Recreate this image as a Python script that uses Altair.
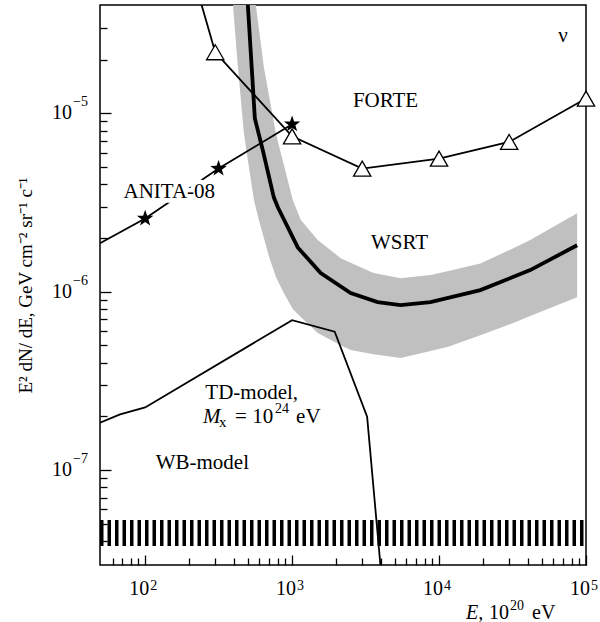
import altair as alt
import pandas as pd

# ---------------- data (x: E in 1e20 eV, y: E^2 dN/dE) ----------------
X_DOMAIN = [49.3, 1.0e5]
Y_DOMAIN = [2.93e-8, 4.05e-5]

forte_E = [198, 300, 1000, 3000, 1.0e4, 3.0e4, 1.0e5]
forte_F = [7.2e-5, 2.20e-5, 7.43e-6, 4.90e-6, 5.57e-6, 6.91e-6, 1.21e-5]
forte_mark = [0, 1, 1, 1, 1, 1, 1]

anita_E = [49.3, 100, 316, 1000]
anita_F = [1.87e-6, 2.57e-6, 4.90e-6, 8.68e-6]
anita_mark = [0, 1, 1, 1]

wsrt_E = [477, 500, 558, 632, 751, 800, 1093, 1566, 2503, 3818, 5470, 8743, 19104, 41737, 87000]
wsrt_F = [5.56e-5, 4.03e-5, 9.37e-6, 6.21e-6, 3.38e-6, 2.97e-6, 1.77e-6, 1.27e-6, 9.81e-7,
          8.73e-7, 8.40e-7, 8.73e-7, 1.02e-6, 1.32e-6, 1.82e-6]

band_E = [396, 428, 470, 508, 550, 567, 594, 643, 695, 775, 878, 1011, 1146, 1495, 2141, 2503,
          3587, 5470, 8743, 11402, 19104, 32003, 41737, 87000]
band_lo = [4.03e-5, 1.81e-5, 7.72e-6, 5.01e-6, 3.26e-6, 2.94e-6, 2.52e-6, 2.00e-6, 1.58e-6,
           1.21e-6, 9.81e-7, 7.98e-7, 7.20e-7, 5.86e-7, 5.01e-7, 4.70e-7, 4.46e-7, 4.24e-7,
           4.64e-7, 4.89e-7, 5.70e-7, 6.67e-7, 7.30e-7, 9.31e-7]
band_hi = [2.97e-4, 2.02e-4, 1.37e-4, 8.18e-5, 4.89e-5, 4.03e-5, 2.99e-5, 1.81e-5, 1.27e-5,
           7.72e-6, 5.14e-6, 3.26e-6, 2.52e-6, 1.95e-6, 1.54e-6, 1.45e-6, 1.27e-6, 1.19e-6,
           1.24e-6, 1.30e-6, 1.44e-6, 1.75e-6, 1.95e-6, 2.75e-6]

td_E = [49.3, 67.5, 100, 1000, 1950, 3240, 4190]
td_F = [1.84e-7, 2.05e-7, 2.24e-7, 6.92e-7, 5.96e-7, 1.99e-7, 1.87e-8]

wb_E = [49.3, 1.0e5]
wb_F = [4.43e-8, 4.43e-8]

label_text = ["FORTE", "WSRT", "\u03bd", "ANITA-08", "TD-model,", "WB-model"]
label_E = [4325, 5385, 69700, 146, 531, 245]
label_F = [1.17e-5, 1.87e-6, 2.70e-5, 3.61e-6, 2.69e-7, 1.09e-7]

mx_E = [248]
mx_F = [1.97e-7]

# tick values and their labels (10^exp)
x_major = [1e2, 1e3, 1e4, 1e5]
x_major_exp = ["2", "3", "4", "5"]
y_major = [1e-7, 1e-6, 1e-5]
y_major_exp = ["\u22127", "\u22126", "\u22125"]
x_minor = [m * 10 ** k for k in (1, 2, 3, 4) for m in range(2, 10) if 50 < m * 10 ** k < 1e5]
y_minor = [m * 10.0 ** k for k in (-8, -7, -6, -5) for m in range(2, 10)
           if 3.1e-8 < m * 10.0 ** k < 3.9e-5]

# ---------------- frames ----------------
forte = pd.DataFrame({"E": forte_E, "F": forte_F, "m": forte_mark})
anita = pd.DataFrame({"E": anita_E, "F": anita_F, "m": anita_mark})
wsrt = pd.DataFrame({"E": wsrt_E, "F": wsrt_F})
band = pd.DataFrame({"E": band_E, "lo": band_lo, "hi": band_hi})
td = pd.DataFrame({"E": td_E, "F": td_F})
wb = pd.DataFrame({"E": wb_E, "F": wb_F})
labels = pd.DataFrame({"E": label_E, "F": label_F, "t": label_text})
anita_lab = labels[labels.t == "ANITA-08"]
other_lab = labels[labels.t != "ANITA-08"]
mx = pd.DataFrame({"E": mx_E, "F": mx_F})
xt = pd.DataFrame({"E": x_major, "e": x_major_exp})
yt = pd.DataFrame({"F": y_major, "e": y_major_exp})

FONT = "Liberation Serif"
xs = alt.Scale(type="log", domain=X_DOMAIN, nice=False)
ys = alt.Scale(type="log", domain=Y_DOMAIN, nice=False)

def X(field="E", axis=None):
    return alt.X(f"{field}:Q", scale=xs, axis=axis)

def Y(field="F", axis=None):
    return alt.Y(f"{field}:Q", scale=ys, axis=axis)

common = dict(labelFont=FONT, titleFont=FONT, labelColor="black", titleColor="black",
              tickColor="black", tickWidth=1.3, titleFontWeight="normal", grid=False)

# ---------------- axes: ticks pointing inward + y title ----------------
y_title_axis = alt.Axis(orient="left", values=y_major, ticks=False, tickSize=0, domain=False,
                        labels=False,
                        title="E\u00b2 dN/ dE, GeV cm\u207b\u00b2 sr\u207b\u00b9 c\u207b\u00b9",
                        titleX=-75, titleY=280, titleAlign="center", titleBaseline="middle",
                        titleFontSize=19, **common)
x_maj_axis = alt.Axis(orient="bottom", values=x_major, tickSize=10, offset=-10, labels=False,
                      domain=False, title=None, **common)
y_maj_axis = alt.Axis(orient="left", values=y_major, tickSize=11, offset=-11, labels=False,
                      domain=False, title=None, **common)
x_min_axis = alt.Axis(orient="bottom", values=x_minor, tickSize=7, offset=-7, labels=False,
                      domain=False, title=None, **common)
y_min_axis = alt.Axis(orient="left", values=y_minor, tickSize=7, offset=-7, labels=False,
                      domain=False, title=None, **common)

ax1 = alt.Chart(wb).mark_point(opacity=0).encode(x=X(), y=Y(axis=y_title_axis))
ax2 = alt.Chart(wb).mark_point(opacity=0).encode(x=X(axis=x_maj_axis), y=Y(axis=y_maj_axis))
ax3 = alt.Chart(wb).mark_point(opacity=0).encode(x=X(axis=x_min_axis), y=Y(axis=y_min_axis))

# tick labels "10" with a raised exponent
TS = 20
ES = 14
xl_base = alt.Chart(xt).mark_text(font=FONT, fontSize=TS, color="black", align="right",
                                  baseline="alphabetic", dx=4).encode(
    x=X(), y=alt.value(590), text=alt.value("10"))
xl_exp = alt.Chart(xt).mark_text(font=FONT, fontSize=ES, color="black", align="left",
                                 baseline="alphabetic", dx=5).encode(
    x=X(), y=alt.value(585), text="e:N")
yl_base = alt.Chart(yt).mark_text(font=FONT, fontSize=TS, color="black", align="right",
                                  baseline="alphabetic", dy=6).encode(
    x=alt.value(-28), y=Y(), text=alt.value("10"))
yl_exp = alt.Chart(yt).mark_text(font=FONT, fontSize=ES, color="black", align="left",
                                 baseline="alphabetic", dy=-7).encode(
    x=alt.value(-27), y=Y(), text="e:N")

# x-axis title  "E, 10^20 eV"
xt_E = alt.Chart(wb.head(1)).mark_text(font=FONT, fontSize=TS, fontStyle="italic",
                                       color="black", align="left").encode(
    x=alt.value(366), y=alt.value(608), text=alt.value("E,"))
xt_10 = alt.Chart(wb.head(1)).mark_text(font=FONT, fontSize=TS, color="black",
                                        align="left").encode(
    x=alt.value(389), y=alt.value(608), text=alt.value("10"))
xt_20 = alt.Chart(wb.head(1)).mark_text(font=FONT, fontSize=ES, color="black",
                                        align="left").encode(
    x=alt.value(410), y=alt.value(601), text=alt.value("20"))
xt_eV = alt.Chart(wb.head(1)).mark_text(font=FONT, fontSize=TS, color="black",
                                        align="left").encode(
    x=alt.value(432), y=alt.value(608), text=alt.value("eV"))

# ---------------- marks ----------------
band_l = alt.Chart(band).mark_area(color="#c0c0c0", clip=True).encode(
    x=X(), y=Y("lo"), y2="hi:Q")

wb_l = alt.Chart(wb).mark_line(color="black", strokeWidth=26, strokeDash=[3.5, 4],
                               strokeCap="butt", clip=True).encode(x=X(), y=Y())

td_l = alt.Chart(td).mark_line(color="black", strokeWidth=1.8, clip=True).encode(x=X(), y=Y())

wsrt_l = alt.Chart(wsrt).mark_line(color="black", strokeWidth=3.8, clip=True).encode(
    x=X(), y=Y())

forte_l = alt.Chart(forte).mark_line(color="black", strokeWidth=1.8, clip=True).encode(
    x=X(), y=Y())
forte_p = alt.Chart(forte).transform_filter("datum.m == 1").mark_point(
    shape="triangle-up", filled=True, fill="white", stroke="black", strokeWidth=1.3,
    size=300, opacity=1).encode(x=X(), y=Y())

STAR = ("M0,-1L0.235,-0.324L0.951,-0.309L0.380,0.124L0.588,0.809L0,0.4L-0.588,0.809"
        "L-0.380,0.124L-0.951,-0.309L-0.235,-0.324Z")
anita_l = alt.Chart(anita).mark_line(color="black", strokeWidth=1.8, clip=True).encode(
    x=X(), y=Y())
anita_p = alt.Chart(anita).transform_filter("datum.m == 1").mark_point(
    shape=STAR, filled=True, color="black", size=300, opacity=1).encode(x=X(), y=Y())

anita_halo = alt.Chart(anita_lab).mark_text(
    font=FONT, fontSize=21, stroke="white", strokeWidth=9, fill="white",
    baseline="middle").encode(x=X(), y=Y(), text="t:N")
anita_txt = alt.Chart(anita_lab).mark_text(
    font=FONT, fontSize=21, color="black", baseline="middle").encode(x=X(), y=Y(), text="t:N")
other_txt = alt.Chart(other_lab).mark_text(
    font=FONT, fontSize=21, color="black", baseline="middle").encode(x=X(), y=Y(), text="t:N")

mx_m = alt.Chart(mx).mark_text(font=FONT, fontSize=21, fontStyle="italic", color="black",
                               align="left", baseline="middle").encode(
    x=X(), y=Y(), text=alt.value("M"))
mx_x = alt.Chart(mx).mark_text(font=FONT, fontSize=15, color="black", align="left",
                               baseline="middle", dx=16, dy=5).encode(
    x=X(), y=Y(), text=alt.value("x"))
mx_rest = alt.Chart(mx).mark_text(font=FONT, fontSize=21, color="black", align="left",
                                  baseline="middle", dx=32).encode(
    x=X(), y=Y(), text=alt.value("= 10"))
mx_sup = alt.Chart(mx).mark_text(font=FONT, fontSize=14, color="black", align="left",
                                 baseline="middle", dx=72, dy=-8).encode(
    x=X(), y=Y(), text=alt.value("24"))
mx_eV = alt.Chart(mx).mark_text(font=FONT, fontSize=21, color="black", align="left",
                                baseline="middle", dx=93).encode(
    x=X(), y=Y(), text=alt.value("eV"))

chart = alt.layer(
    ax1, ax2, ax3,
    band_l, wb_l, td_l, wsrt_l, forte_l, forte_p, anita_l, anita_p,
    anita_halo, anita_txt, other_txt, mx_m, mx_x, mx_rest, mx_sup, mx_eV,
    xl_base, xl_exp, yl_base, yl_exp, xt_E, xt_10, xt_20, xt_eV,
).resolve_axis(x="independent", y="independent").properties(
    width=486, height=560,
    background="white",
    padding={"left": 100, "top": 5, "right": 14, "bottom": 57},
    autosize=alt.AutoSizeParams(type="none"),
).configure_view(stroke="black", strokeWidth=1.5).configure_axis(
    grid=False, labelFont=FONT, titleFont=FONT, labelColor="black", titleColor="black",
    tickColor="black", tickWidth=1.3, titleFontWeight="normal",
)

chart.save("out.html", embed_options={"renderer": "svg", "actions": False})
